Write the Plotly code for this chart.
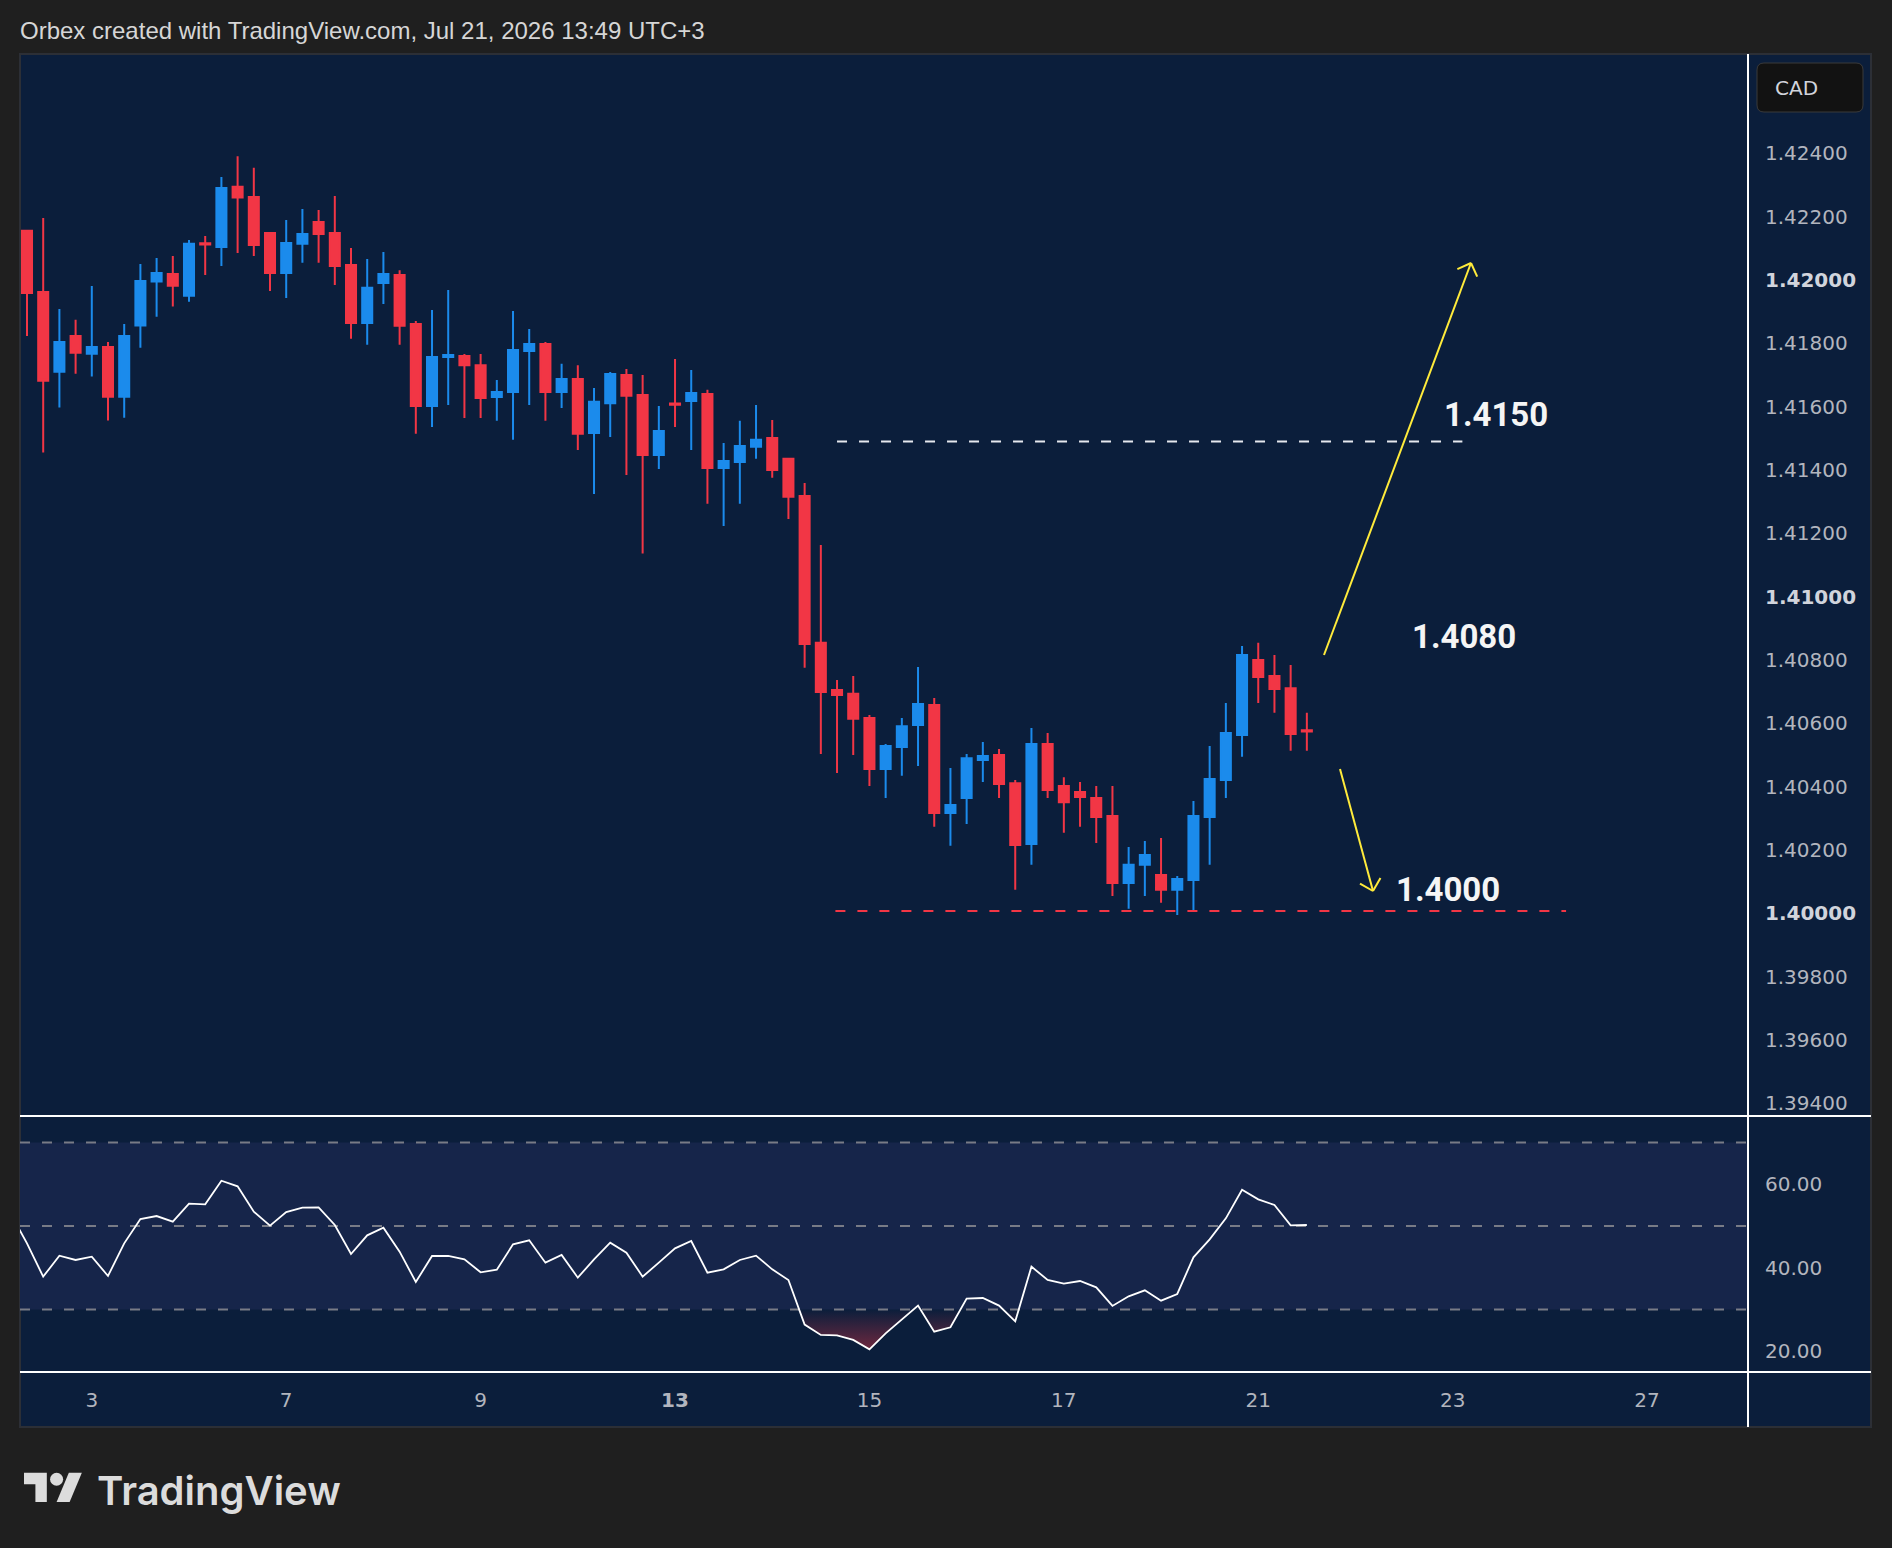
import math
import plotly.graph_objects as go

# ---------------- data ----------------
bar_index = list(range(80))
opens = [1.42155, 1.41962, 1.41710, 1.41823, 1.41767, 1.41788, 1.41631, 1.41856, 1.41995, 1.42019,
         1.41950, 1.42116, 1.42104, 1.42294, 1.42262, 1.42148, 1.42022, 1.42114, 1.42183, 1.42148,
         1.42047, 1.41864, 1.41990, 1.42016, 1.41861, 1.41602, 1.41757, 1.41760, 1.41731, 1.41630,
         1.41646, 1.41776, 1.41798, 1.41646, 1.41687, 1.41517, 1.41611, 1.41700, 1.41637, 1.41447,
         1.41610, 1.41618, 1.41640, 1.41406, 1.41425, 1.41473, 1.41501, 1.41435, 1.41318, 1.40854,
         1.40705, 1.40693, 1.40617, 1.40456, 1.40525, 1.40595, 1.40658, 1.40317, 1.40364, 1.40484,
         1.40500, 1.40411, 1.40219, 1.40535, 1.40402, 1.40383, 1.40364, 1.40307, 1.40096, 1.40153,
         1.40121, 1.40074, 1.40105, 1.40304, 1.40421, 1.40563, 1.40800, 1.40749, 1.40711, 1.40578]
highs = [1.42157, 1.42196, 1.41908, 1.41874, 1.41981, 1.41804, 1.41861, 1.42050, 1.42069, 1.42076,
         1.42126, 1.42139, 1.42325, 1.42391, 1.42354, 1.42151, 1.42189, 1.42224, 1.42221, 1.42265,
         1.42101, 1.42066, 1.42088, 1.42031, 1.41870, 1.41905, 1.41968, 1.41766, 1.41766, 1.41684,
         1.41902, 1.41845, 1.41804, 1.41735, 1.41731, 1.41659, 1.41709, 1.41719, 1.41700, 1.41602,
         1.41750, 1.41716, 1.41653, 1.41485, 1.41555, 1.41605, 1.41558, 1.41438, 1.41359, 1.41163,
         1.40737, 1.40749, 1.40626, 1.40535, 1.40617, 1.40778, 1.40680, 1.40459, 1.40503, 1.40541,
         1.40519, 1.40421, 1.40585, 1.40569, 1.40430, 1.40415, 1.40402, 1.40402, 1.40209, 1.40228,
         1.40238, 1.40118, 1.40355, 1.40528, 1.40664, 1.40844, 1.40854, 1.40816, 1.40784, 1.40633]
lows = [1.41823, 1.41455, 1.41597, 1.41704, 1.41695, 1.41556, 1.41565, 1.41786, 1.41884, 1.41916,
        1.41931, 1.42016, 1.42044, 1.42085, 1.42076, 1.41965, 1.41943, 1.42054, 1.42054, 1.41984,
        1.41814, 1.41795, 1.41924, 1.41795, 1.41514, 1.41536, 1.41605, 1.41564, 1.41564, 1.41555,
        1.41495, 1.41605, 1.41555, 1.41596, 1.41463, 1.41324, 1.41504, 1.41384, 1.41136, 1.41403,
        1.41536, 1.41463, 1.41293, 1.41223, 1.41293, 1.41435, 1.41375, 1.41245, 1.40775, 1.40503,
        1.40443, 1.40500, 1.40402, 1.40364, 1.40434, 1.40465, 1.40273, 1.40213, 1.40282, 1.40415,
        1.40364, 1.40074, 1.40153, 1.40364, 1.40254, 1.40273, 1.40222, 1.40055, 1.40014, 1.40055,
        1.40033, 1.39995, 1.40007, 1.40153, 1.40364, 1.40494, 1.40664, 1.40633, 1.40513, 1.40513]
closes = [1.41959, 1.41682, 1.41804, 1.41770, 1.41788, 1.41631, 1.41823, 1.41997, 1.42022, 1.41982,
          1.42114, 1.42112, 1.42290, 1.42260, 1.42110, 1.42022, 1.42117, 1.42145, 1.42145, 1.42044,
          1.41864, 1.41975, 1.42019, 1.41855, 1.41602, 1.41757, 1.41763, 1.41731, 1.41627, 1.41646,
          1.41779, 1.41798, 1.41646, 1.41687, 1.41514, 1.41615, 1.41703, 1.41634, 1.41447, 1.41523,
          1.41606, 1.41643, 1.41406, 1.41428, 1.41476, 1.41495, 1.41400, 1.41315, 1.40850, 1.40699,
          1.40689, 1.40614, 1.40456, 1.40528, 1.40591, 1.40661, 1.40317, 1.40342, 1.40490, 1.40497,
          1.40408, 1.40216, 1.40535, 1.40389, 1.40351, 1.40367, 1.40304, 1.40096, 1.40153, 1.40184,
          1.40074, 1.40108, 1.40307, 1.40424, 1.40569, 1.40816, 1.40746, 1.40708, 1.40566, 1.40574]
# RSI starts one bar before the first visible candle (line enters from the left edge)
rsi_index = [-1] + list(range(80))
rsi = [52.90,
       45.85, 37.87, 42.90, 41.86, 42.66, 38.03, 45.85, 51.68, 52.39, 51.04,
       55.35, 55.19, 60.85, 59.50, 53.43, 50.08, 53.35, 54.39, 54.47, 50.24,
       43.30, 47.77, 49.60, 43.85, 36.59, 42.82, 42.82, 42.02, 38.91, 39.55,
       45.61, 46.57, 41.22, 43.06, 37.63, 42.02, 46.01, 43.62, 37.87, 41.22,
       44.65, 46.41, 38.83, 39.62, 41.86, 42.90, 39.62, 37.07, 26.38, 23.90,
       23.82, 22.71, 20.47, 24.30, 27.65, 30.93, 24.70, 25.74, 32.60, 32.76,
       30.93, 27.17, 40.26, 37.07, 36.19, 36.83, 35.32, 30.85, 33.16, 34.60,
       32.12, 33.72, 42.50, 46.81, 51.84, 58.70, 56.38, 55.03, 50.16, 50.24]

day_labels = ["3", "7", "9", "13", "15", "17", "21", "23", "27"]
day_tick_index = [4, 16, 28, 40, 52, 64, 76, 88, 100]
bold_days = ["13"]

price_ticks = [1.394, 1.396, 1.398, 1.400, 1.402, 1.404, 1.406, 1.408, 1.410,
               1.412, 1.414, 1.416, 1.418, 1.420, 1.422, 1.424]
major_price_ticks = [1.400, 1.410, 1.420]
rsi_ticks = [20, 40, 60]
rsi_levels = [70, 50, 30]

resistance_level = 1.41490
support_level = 1.40007
level_texts = ["1.4150", "1.4080", "1.4000"]

title_text = "Orbex created with TradingView.com, Jul 21, 2026 13:49 UTC+3"

# ---------------- style ----------------
W, H = 1892, 1548
PAGE_BG = "#1f1f1f"
PANEL_BG = "#0b1e3b"
BAND_BG = "#16254a"
UP = "#1b8bec"
DN = "#f23645"
AXIS_TXT = "#b2b5be"
YELLOW = "#ffeb3b"


def px(x):
    return x / W


def py(y):
    return 1 - y / H


X_RANGE = [-0.432, 106.23]
Y_RANGE = [1.393599, 1.427135]
R_RANGE = [15.03, 76.35]

fig = go.Figure()

fig.add_trace(go.Candlestick(
    x=bar_index, open=opens, high=highs, low=lows, close=closes,
    xaxis="x", yaxis="y",
    increasing=dict(line=dict(color=UP, width=2), fillcolor=UP),
    decreasing=dict(line=dict(color=DN, width=2), fillcolor=DN),
    whiskerwidth=0, showlegend=False, hoverinfo="skip",
))

fig.add_trace(go.Scatter(
    x=rsi_index, y=[rsi_levels[2]] * len(rsi_index), xaxis="x2", yaxis="y2",
    mode="lines", line=dict(width=0, color="rgba(0,0,0,0)"), showlegend=False, hoverinfo="skip",
))
fig.add_trace(go.Scatter(
    x=rsi_index, y=rsi, xaxis="x2", yaxis="y2", mode="lines",
    line=dict(color="#ffffff", width=1.8), fill="tonexty",
    fillgradient=dict(type="vertical",
                      colorscale=[[0, "rgba(242,54,69,0.45)"], [1, "rgba(242,54,69,0)"]],
                      start=20, stop=30),
    showlegend=False, hoverinfo="skip",
))

price_text = []
for v in price_ticks:
    s = f"{v:.5f}"
    if any(abs(v - m) < 1e-9 for m in major_price_ticks):
        s = f"<b><span style='color:#d1d4dc'>{s}</span></b>"
    price_text.append(s)

day_text = [f"<b>{d}</b>" if d in bold_days else d for d in day_labels]

axis_font = dict(family="DejaVu Sans", size=20, color=AXIS_TXT)

fig.update_layout(
    width=W, height=H, margin=dict(l=0, r=0, t=0, b=0),
    paper_bgcolor=PAGE_BG, plot_bgcolor=PANEL_BG, showlegend=False,
    boxgap=0.38, boxgroupgap=0,
    xaxis=dict(domain=[px(20), px(1748)], range=X_RANGE, anchor="y",
               showgrid=False, zeroline=False, showticklabels=False, ticks="",
               rangeslider=dict(visible=False), automargin=False, showline=False),
    yaxis=dict(domain=[py(1116), py(54)], range=Y_RANGE, anchor="x", side="right",
               tickvals=price_ticks, ticktext=price_text, tickfont=axis_font,
               showgrid=False, zeroline=False, ticks="", automargin=False,
               ticklabelstandoff=16, showline=False),
    xaxis2=dict(domain=[px(20), px(1748)], range=X_RANGE, anchor="y2",
                tickvals=day_tick_index, ticktext=day_text, tickfont=axis_font,
                showgrid=False, zeroline=False, ticks="", automargin=False,
                ticklabelstandoff=14, showline=False),
    yaxis2=dict(domain=[py(1372), py(1116)], range=R_RANGE, anchor="x2", side="right",
                tickvals=rsi_ticks, ticktext=[f"{t:.2f}" for t in rsi_ticks], tickfont=axis_font,
                showgrid=False, zeroline=False, ticks="", automargin=False,
                ticklabelstandoff=16, showline=False),
)

shapes = []
# panel background + frame
shapes.append(dict(type="rect", xref="paper", yref="paper", x0=px(20), x1=px(1871), y0=py(1427), y1=py(54),
                   fillcolor=PANEL_BG, line=dict(color="#2c2f36", width=2), layer="below"))
# RSI band
shapes.append(dict(type="rect", xref="x2 domain", yref="y2", x0=0, x1=1, y0=rsi_levels[2], y1=rsi_levels[0],
                   fillcolor=BAND_BG, line=dict(width=0), layer="below"))
for lv in rsi_levels:
    shapes.append(dict(type="line", xref="x2 domain", yref="y2", x0=0, x1=1, y0=lv, y1=lv,
                       line=dict(color="#787b86", width=2, dash="10px,12px"), layer="below"))
# separators
shapes.append(dict(type="line", xref="paper", yref="paper", x0=px(1748), x1=px(1748), y0=py(1427), y1=py(54),
                   line=dict(color="#ffffff", width=2)))
for yy in (1116, 1372):
    shapes.append(dict(type="line", xref="paper", yref="paper", x0=px(20), x1=px(1871), y0=py(yy), y1=py(yy),
                       line=dict(color="#ffffff", width=2)))
# level lines (data coords)
shapes.append(dict(type="line", xref="x", yref="y", x0=50.0, x1=88.6, y0=resistance_level, y1=resistance_level,
                   line=dict(color="#e6e8ee", width=2, dash="10px,12px")))
shapes.append(dict(type="line", xref="x", yref="y", x0=49.9, x1=95.0, y0=support_level, y1=support_level,
                   line=dict(color=DN, width=2, dash="10px,12px")))


def arrow(x0, y0, x1, y1, wing=15, ang=45):
    out = [dict(type="line", xref="paper", yref="paper", x0=px(x0), y0=py(y0), x1=px(x1), y1=py(y1),
                line=dict(color=YELLOW, width=2))]
    dx, dy = x0 - x1, y0 - y1
    L = math.hypot(dx, dy)
    ux, uy = dx / L, dy / L
    for s in (1, -1):
        a = math.radians(ang * s)
        wx = ux * math.cos(a) - uy * math.sin(a)
        wy = ux * math.sin(a) + uy * math.cos(a)
        out.append(dict(type="line", xref="paper", yref="paper", x0=px(x1), y0=py(y1),
                        x1=px(x1 + wx * wing), y1=py(y1 + wy * wing), line=dict(color=YELLOW, width=2)))
    return out


shapes += arrow(1324, 655, 1471, 263)
shapes += arrow(1340, 769, 1373, 891)

# CAD box (rounded)
bx0, bx1, by0, by1, r = 1757, 1863, 63, 112, 7
path = (f"M {px(bx0 + r)} {py(by0)} L {px(bx1 - r)} {py(by0)} Q {px(bx1)} {py(by0)} {px(bx1)} {py(by0 + r)} "
        f"L {px(bx1)} {py(by1 - r)} Q {px(bx1)} {py(by1)} {px(bx1 - r)} {py(by1)} "
        f"L {px(bx0 + r)} {py(by1)} Q {px(bx0)} {py(by1)} {px(bx0)} {py(by1 - r)} "
        f"L {px(bx0)} {py(by0 + r)} Q {px(bx0)} {py(by0)} {px(bx0 + r)} {py(by0)} Z")
shapes.append(dict(type="path", xref="paper", yref="paper", path=path, fillcolor="#121212",
                   line=dict(color="#3a3a3a", width=1)))

# TradingView logo
s_, ox, oy = 1.63, 24, 1466.2


def lp(vx, vy):
    return f"{px(ox + vx * s_)} {py(oy + vy * s_)}"


logo1 = f"M {lp(14,22)} L {lp(7,22)} L {lp(7,11)} L {lp(0,11)} L {lp(0,4)} L {lp(14,4)} Z"
logo2 = f"M {lp(28,22)} L {lp(20,22)} L {lp(27.5,4)} L {lp(35.5,4)} Z"
for pth in (logo1, logo2):
    shapes.append(dict(type="path", xref="paper", yref="paper", path=pth, fillcolor="#dcdcdc", line=dict(width=0)))
shapes.append(dict(type="circle", xref="paper", yref="paper",
                   x0=px(ox + 16 * s_), x1=px(ox + 24 * s_), y0=py(oy + 12 * s_), y1=py(oy + 4 * s_),
                   fillcolor="#dcdcdc", line=dict(width=0)))

fig.update_layout(shapes=shapes)

ann = []
ann.append(dict(text=title_text, xref="paper", yref="paper", x=px(18), y=py(31), xanchor="left", yanchor="middle",
                showarrow=False, font=dict(family="Liberation Sans", size=24, color="#d6d6d6")))
ann.append(dict(text="CAD", xref="paper", yref="paper", x=px(1773), y=py(88), xanchor="left", yanchor="middle",
                showarrow=False, font=dict(family="DejaVu Sans", size=20, color="#d1d4dc")))
ann.append(dict(text="TradingView", xref="paper", yref="paper", x=px(95), y=py(1490), xanchor="left", yanchor="middle",
                showarrow=False, font=dict(family="Inter", size=40, color="#dcdcdc", weight=600)))
label_pos = [(1496, 414), (1464, 636), (1448, 889)]
for t, (lx, ly) in zip(level_texts, label_pos):
    ann.append(dict(text=f"<b>{t}</b>", xref="paper", yref="paper", x=px(lx), y=py(ly),
                    xanchor="center", yanchor="middle", showarrow=False,
                    font=dict(family="Roboto", size=33, color="#f5f5f5")))
fig.update_layout(annotations=ann)

fig.write_html("out.html")
